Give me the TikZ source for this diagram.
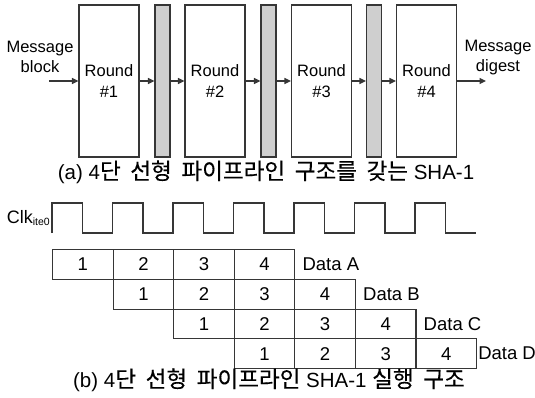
\documentclass[tikz,border=0pt]{standalone}
\usepackage{fontspec}
\setmainfont{Liberation Sans}
\newfontfamily\kr[WordSpace=1.9,Scale=1.1,FakeBold=0.3]{Noto Sans CJK KR}
\usetikzlibrary{arrows.meta}
\definecolor{ink}{HTML}{363636}
\definecolor{regfill}{HTML}{CFCFCF}
\begin{document}
\begin{tikzpicture}[x=1pt,y=-1pt,
  roundbox/.style={draw=ink, line width=1.1pt, fill=white, minimum width=60pt,
    minimum height=152pt, inner sep=0pt, align=center,
    font=\fontsize{16.5}{21}\selectfont},
  regbar/.style={draw=ink, line width=1.1pt, fill=regfill, minimum width=15pt,
    minimum height=152pt, inner sep=0pt},
  flow/.style={draw=ink, line width=1.1pt, -{Triangle[length=6.5pt,width=6pt]}},
  iolabel/.style={align=center, inner sep=0pt, font=\fontsize{16.5}{20}\selectfont},
  caption/.style={inner sep=0pt, font=\fontsize{20.5}{24}\selectfont},
  cell/.style={draw=ink, line width=1.1pt, minimum width=60.57pt,
    minimum height=29.75pt, inner sep=0pt, anchor=north west,
    font=\fontsize{18.5}{20}\selectfont},
  datalabel/.style={inner sep=0pt, anchor=west, font=\fontsize{18.5}{20}\selectfont},
  clk/.style={draw=ink, line width=1.1pt}
]
\useasboundingbox (0,0) rectangle (535,398);

% ---- (a) four-stage linear pipeline ----
\node[roundbox] (r1) at (109,81) {Round\\\#1};
\node[regbar]   (g1) at (162.5,81) {};
\node[roundbox] (r2) at (215,81) {Round\\\#2};
\node[regbar]   (g2) at (268.5,81) {};
\node[roundbox] (r3) at (321.5,81) {Round\\\#3};
\node[regbar]   (g3) at (374,81) {};
\node[roundbox] (r4) at (426.5,81) {Round\\\#4};

\node[iolabel] (min) at (40,57) {Message\\block};
\node[iolabel] (mout) at (498,58) {Message\\digest};
\coordinate (inend) at (49,81);
\coordinate (outend) at (486,81);

\draw[flow] (inend) -- (r1.west);
\draw[flow] (r1.east) -- (g1.west);
\draw[flow] (g1.east) -- (r2.west);
\draw[flow] (r2.east) -- (g2.west);
\draw[flow] (g2.east) -- (r3.west);
\draw[flow] (r3.east) -- (g3.west);
\draw[flow] (g3.east) -- (r4.west);
\draw[flow] (r4.east) -- (outend);

\node[caption] (capa) at (266,172) {(a) 4{\kr 단 선형 파이프라인 구조를 갖는} SHA-1};

% ---- (b) execution timing ----
\node[inner sep=0pt, anchor=base east, font=\fontsize{18}{20}\selectfont] (clkl) at (50,223)
  {Clk{\fontsize{10.5}{10}\selectfont\raisebox{-2.5pt}{ite0}}};
\draw[clk] (52,233) -- (52,203) -- (82.5,203) -- (82.5,233)
  -- (112.5,233) -- (112.5,203) -- (143,203) -- (143,233)
  -- (173,233) -- (173,203) -- (203.5,203) -- (203.5,233)
  -- (233.5,233) -- (233.5,203) -- (264,203) -- (264,233)
  -- (294,233) -- (294,203) -- (324.5,203) -- (324.5,233)
  -- (354.5,233) -- (354.5,203) -- (385,203) -- (385,233)
  -- (415,233) -- (415,203) -- (445.5,203) -- (445.5,233)
  -- (476,233);

\foreach \r in {0,...,3}{
  \foreach \k in {1,...,4}{
    \pgfmathtruncatemacro{\j}{\r+\k-1}
    \node[cell] (c\r\j) at ({52+60.57*\j},{249+29.75*\r}) {\k};
  }
}

\node[datalabel] (dA) at ([xshift=7pt]c03.east) {Data A};
\node[datalabel] (dB) at ([xshift=7pt]c14.east) {Data B};
\node[datalabel] (dC) at ([xshift=7pt]c25.east) {Data C};
\node[datalabel] (dD) at ([xshift=1pt]c36.east) {Data D};

\node[caption] (capb) at (269,380) {(b) 4{\kr 단 선형 파이프라인} SHA-1 {\kr 실행 구조}};
\end{tikzpicture}
\end{document}
